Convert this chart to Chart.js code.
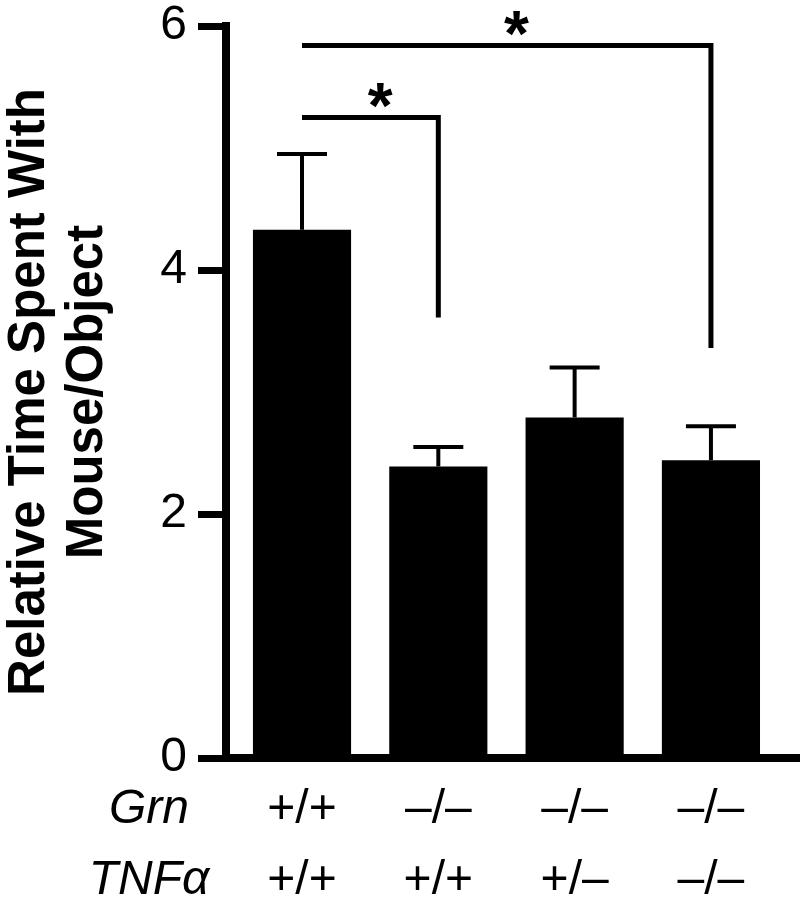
<!DOCTYPE html>
<html>
<head>
<meta charset="utf-8">
<title>Relative Time Spent With Mouse/Object</title>
<script src="https://cdn.jsdelivr.net/npm/chart.js@4.4.0/dist/chart.umd.min.js"></script>
<style>
    html, body { margin: 0; padding: 0; background: #fff; }
    #wrap { width: 806px; height: 912px; position: relative; }
</style>
</head>
<body>
<div id="wrap"><canvas id="myChart"></canvas></div>
<script>
// genotype rows shown under each bar
var grnLabels = ['+/+', '\u2013/\u2013', '\u2013/\u2013', '\u2013/\u2013'];
var tnfLabels = ['+/+', '+/+', '+/\u2013', '\u2013/\u2013'];
var rowNames = ['Grn', 'TNF\u03b1'];

// bar heights and error (upper only)
var meanTime = [4.33, 2.39, 2.79, 2.44];
var semTime = [0.62, 0.16, 0.41, 0.28];

// y axis tick labels
var yTickValues = [0, 2, 4, 6];

// significance brackets: from bar, to bar, height of the bar line, bottom of the drop
var bracketFrom = [0, 0];
var bracketTo = [1, 3];
var bracketTop = [5.25, 5.84];
var bracketDrop = [3.61, 3.36];
var bracketMark = ['*', '*'];

var fontFamily = '"Liberation Sans", Arial, Helvetica, sans-serif';
var rowGap = 71; // distance between the two label rows

var barPoints = meanTime.map(function (v, i) {
    return { x: i + 1, y: v };
});

// error bars, brackets, stars and the row names on the left
var extrasPlugin = {
    id: 'extras',
    afterDraw: function (chart) {
        var ctx = chart.ctx;
        var xs = chart.scales.x;
        var ys = chart.scales.y;
        var bars = chart.getDatasetMeta(0).data;

        ctx.save();
        ctx.strokeStyle = '#000';
        ctx.fillStyle = '#000';

        // error bars
        ctx.lineWidth = 4;
        ctx.lineCap = 'butt';
        for (var i = 0; i < meanTime.length; i++) {
            var bx = bars[i].x;
            var yTop = ys.getPixelForValue(meanTime[i] + semTime[i]);
            var yBase = ys.getPixelForValue(meanTime[i]);
            ctx.beginPath();
            ctx.moveTo(bx, yBase);
            ctx.lineTo(bx, yTop);
            ctx.moveTo(bx - 25, yTop);
            ctx.lineTo(bx + 25, yTop);
            ctx.stroke();
        }

        // brackets
        ctx.lineWidth = 5;
        ctx.lineJoin = 'miter';
        for (var j = 0; j < bracketFrom.length; j++) {
            var x1 = bars[bracketFrom[j]].x;
            var x2 = bars[bracketTo[j]].x;
            var yb = ys.getPixelForValue(bracketTop[j]);
            var yd = ys.getPixelForValue(bracketDrop[j]);
            ctx.beginPath();
            ctx.moveTo(x1, yb);
            ctx.lineTo(x2, yb);
            ctx.lineTo(x2, yd);
            ctx.stroke();

            ctx.font = 'bold 64px ' + fontFamily;
            ctx.textAlign = 'center';
            ctx.textBaseline = 'alphabetic';
            ctx.fillText(bracketMark[j], (x1 + x2) / 2 + 10, yb + 10);
        }

        // row names in italics, level with the tick label rows
        ctx.font = 'italic 48px ' + fontFamily;
        ctx.textAlign = 'center';
        ctx.textBaseline = 'middle';
        var rowTop = xs.top + 16;
        for (var k = 0; k < rowNames.length; k++) {
            ctx.fillText(rowNames[k], 149, rowTop + rowGap / 2 + k * rowGap);
        }
        ctx.restore();
    }
};

function createChart() {
    var ctx = document.getElementById('myChart').getContext('2d');
    new Chart(ctx, {
        type: 'bar',
        data: {
            datasets: [{
                data: barPoints,
                backgroundColor: '#000',
                borderWidth: 0,
                barPercentage: 0.9,
                categoryPercentage: 0.8
            }]
        },
        plugins: [extrasPlugin],
        options: {
            responsive: true,
            maintainAspectRatio: false,
            animation: false,
            devicePixelRatio: 1,
            layout: { padding: { top: 26, right: 7, left: 0, bottom: 0 } },
            plugins: {
                legend: { display: false },
                tooltip: { enabled: false }
            },
            scales: {
                x: {
                    type: 'linear',
                    offset: false,
                    min: 0.4424,
                    max: 4.646,
                    afterBuildTicks: function (scale) {
                        scale.ticks = [1, 2, 3, 4].map(function (v) { return { value: v }; });
                    },
                    afterFit: function (scale) { scale.height = 154; },
                    grid: { display: false, drawTicks: false, offset: false },
                    border: { display: true, color: '#000', width: 8 },
                    ticks: {
                        autoSkip: false,
                        maxRotation: 0,
                        padding: 16,
                        color: '#000',
                        font: { family: fontFamily, size: 48, lineHeight: rowGap / 48 },
                        callback: function (value) {
                            var i = value - 1;
                            return [grnLabels[i], tnfLabels[i]];
                        }
                    }
                },
                y: {
                    min: 0,
                    max: 6,
                    afterBuildTicks: function (scale) {
                        scale.ticks = yTickValues.map(function (v) { return { value: v }; });
                    },
                    afterFit: function (scale) { scale.width = 226; },
                    grid: {
                        display: true,
                        drawOnChartArea: false,
                        drawTicks: true,
                        tickLength: 28,
                        tickWidth: 7,
                        tickColor: '#000',
                        color: '#000'
                    },
                    border: { display: true, color: '#000', width: 8 },
                    ticks: {
                        padding: 11,
                        color: '#000',
                        // small line height so the top label does not push the plot down
                        font: { family: fontFamily, size: 48, lineHeight: 0.4 }
                    },
                    title: {
                        display: true,
                        text: ['Relative Time Spent With', 'Mouse/Object'],
                        color: '#000',
                        padding: { top: 1, bottom: 0 },
                        font: { family: fontFamily, size: 51, weight: 'bold', lineHeight: 58 / 51 }
                    }
                }
            }
        }
    });
}

createChart();
</script>
</body>
</html>
